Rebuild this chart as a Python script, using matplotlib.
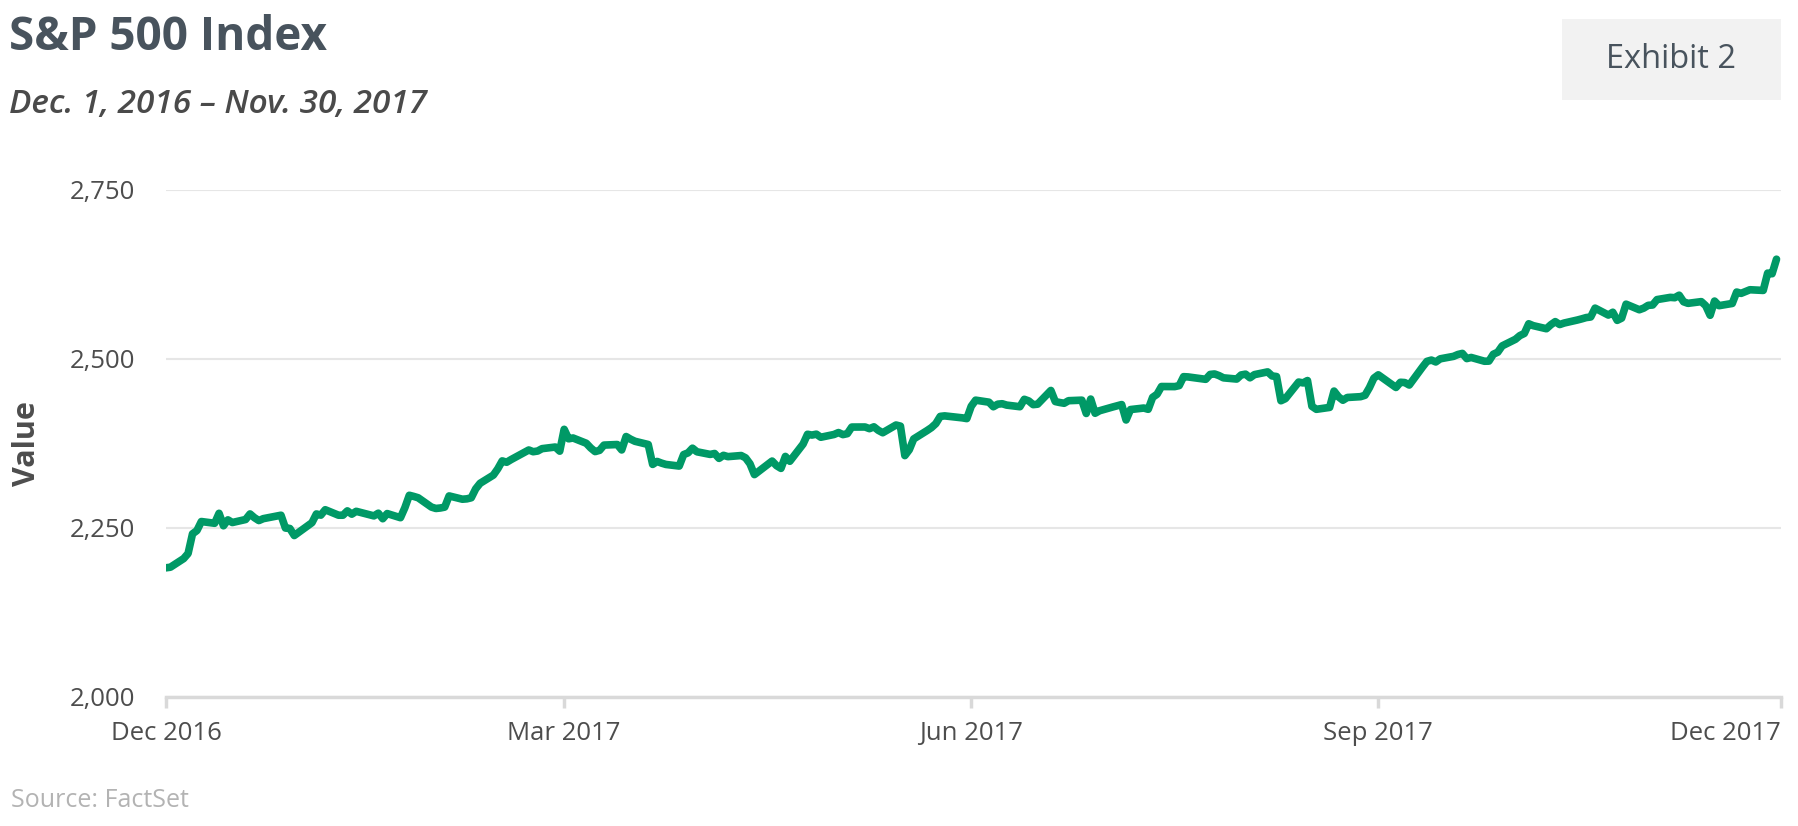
import datetime as dt
import matplotlib
matplotlib.use("Agg")
import matplotlib.pyplot as plt
import matplotlib.dates as mdates
import matplotlib.transforms as mtransforms
from matplotlib.patches import Rectangle
from matplotlib.ticker import FuncFormatter

# S&P 500 daily closes (grouped by month)
months = ["2016-12", "2017-01", "2017-02", "2017-03", "2017-04", "2017-05",
          "2017-06", "2017-07", "2017-08", "2017-09", "2017-10", "2017-11"]

trade_days = [
    [1, 2, 5, 6, 7, 8, 9, 12, 13, 14, 15, 16, 19, 20, 21, 22, 23, 27, 28, 29, 30],
    [3, 4, 5, 6, 9, 10, 11, 12, 13, 17, 18, 19, 20, 23, 24, 25, 26, 27, 30, 31],
    [1, 2, 3, 6, 7, 8, 9, 10, 13, 14, 15, 16, 17, 21, 22, 23, 24, 27, 28],
    [1, 2, 3, 6, 7, 8, 9, 10, 13, 14, 15, 16, 17, 20, 21, 22, 23, 24, 27, 28, 29, 30, 31],
    [3, 4, 5, 6, 7, 10, 11, 12, 13, 17, 18, 19, 20, 21, 24, 25, 26, 27, 28],
    [1, 2, 3, 4, 5, 8, 9, 10, 11, 12, 15, 16, 17, 18, 19, 22, 23, 24, 25, 26, 30, 31],
    [1, 2, 5, 6, 7, 8, 9, 12, 13, 14, 15, 16, 19, 20, 21, 22, 23, 26, 27, 28, 29, 30],
    [3, 5, 6, 7, 10, 11, 12, 13, 14, 17, 18, 19, 20, 21, 24, 25, 26, 27, 28, 31],
    [1, 2, 3, 4, 7, 8, 9, 10, 11, 14, 15, 16, 17, 18, 21, 22, 23, 24, 25, 28, 29, 30, 31],
    [1, 5, 6, 7, 8, 11, 12, 13, 14, 15, 18, 19, 20, 21, 22, 25, 26, 27, 28, 29],
    [2, 3, 4, 5, 6, 9, 10, 11, 12, 13, 16, 17, 18, 19, 20, 23, 24, 25, 26, 27, 30, 31],
    [1, 2, 3, 6, 7, 8, 9, 10, 13, 14, 15, 16, 17, 20, 21, 22, 24, 27, 28, 29, 30],
]

closes = [
    [2191.08, 2191.95, 2204.71, 2212.23, 2241.35, 2246.19, 2259.53, 2256.96, 2271.72,
     2253.28, 2262.03, 2258.07, 2262.53, 2270.76, 2265.18, 2260.96, 2263.79, 2268.88,
     2249.92, 2249.26, 2238.83],
    [2257.83, 2270.75, 2269.00, 2276.98, 2268.90, 2268.90, 2275.32, 2270.44, 2274.64,
     2267.89, 2271.89, 2263.69, 2271.31, 2265.20, 2280.07, 2298.37, 2296.68, 2294.69,
     2280.90, 2278.87],
    [2279.55, 2280.85, 2297.42, 2292.56, 2293.08, 2294.67, 2307.87, 2316.10, 2328.25,
     2337.58, 2349.25, 2347.22, 2351.16, 2365.38, 2362.82, 2363.81, 2367.34, 2369.75,
     2363.64],
    [2395.96, 2381.92, 2383.12, 2375.31, 2368.39, 2362.98, 2364.87, 2372.60, 2373.47,
     2365.45, 2385.26, 2381.38, 2378.25, 2373.47, 2344.02, 2348.45, 2345.96, 2343.98,
     2341.59, 2358.57, 2361.13, 2368.06, 2362.72],
    [2358.84, 2360.16, 2352.95, 2357.49, 2355.54, 2357.16, 2353.78, 2344.93, 2328.95,
     2349.01, 2342.19, 2338.17, 2355.84, 2348.69, 2374.15, 2388.61, 2387.45, 2388.77,
     2384.20],
    [2388.33, 2391.17, 2388.13, 2389.52, 2399.29, 2399.38, 2396.92, 2399.63, 2394.44,
     2390.90, 2402.32, 2400.67, 2357.03, 2365.72, 2381.73, 2394.02, 2398.42, 2404.39,
     2415.07, 2415.82, 2412.91, 2411.80],
    [2430.06, 2439.07, 2436.10, 2429.33, 2433.14, 2433.79, 2431.77, 2429.39, 2440.35,
     2437.92, 2432.46, 2433.15, 2453.46, 2437.03, 2435.61, 2434.50, 2438.30, 2439.07,
     2419.38, 2440.69, 2419.70, 2423.41],
    [2429.01, 2432.54, 2409.75, 2425.18, 2427.43, 2425.53, 2443.25, 2447.83, 2459.27,
     2459.14, 2460.61, 2473.83, 2473.45, 2472.54, 2469.91, 2477.13, 2477.83, 2475.42,
     2472.10, 2470.30],
    [2476.35, 2477.57, 2472.16, 2476.83, 2480.91, 2474.92, 2474.02, 2438.21, 2441.32,
     2465.84, 2464.61, 2468.11, 2430.01, 2425.55, 2428.37, 2452.51, 2444.04, 2438.97,
     2443.05, 2444.24, 2446.30, 2457.59, 2471.65],
    [2476.55, 2457.85, 2465.54, 2465.10, 2461.43, 2488.11, 2496.48, 2498.37, 2495.62,
     2500.23, 2503.87, 2506.65, 2508.24, 2500.60, 2502.22, 2496.66, 2496.84, 2507.04,
     2510.06, 2519.36],
    [2529.12, 2534.58, 2537.74, 2552.07, 2549.33, 2544.73, 2550.64, 2555.24, 2550.93,
     2553.17, 2557.64, 2559.36, 2561.26, 2562.10, 2575.21, 2564.98, 2569.13, 2557.15,
     2560.40, 2581.07, 2572.83, 2575.26],
    [2579.36, 2579.85, 2587.84, 2591.13, 2590.64, 2594.38, 2584.62, 2582.30, 2584.84,
     2578.87, 2564.62, 2585.64, 2578.85, 2582.14, 2599.03, 2597.08, 2602.42, 2601.42,
     2627.04, 2626.07, 2647.58],
]

y_ticks = [2000, 2250, 2500, 2750]
x_tick_dates = ["2016-12-01", "2017-03-01", "2017-06-01", "2017-09-01", "2017-12-01"]
x_tick_labels = ["Dec 2016", "Mar 2017", "Jun 2017", "Sep 2017", "Dec 2017"]

dates = []
values = []
for month, days, vals in zip(months, trade_days, closes):
    year, mon = map(int, month.split("-"))
    for d, v in zip(days, vals):
        dates.append(dt.date(year, mon, d))
        values.append(v)

plt.rcParams['font.family'] = ['Open Sans', 'DejaVu Sans']

fig = plt.figure(figsize=(17.98, 8.26), dpi=100)
ax = fig.add_axes([0.0923, 0.1562, 0.8982, 0.6138])

ax.plot(dates, values, color='#009966', linewidth=5.5, solid_joinstyle='round',
        solid_capstyle='round', zorder=3)

ax.set_ylim(2000, 2750)
ax.set_xlim(dt.date(2016, 12, 1), dt.date(2017, 12, 1))
ax.set_yticks(y_ticks)
ax.yaxis.set_major_formatter(FuncFormatter(lambda v, p: f"{int(v):,}"))
ax.grid(axis='y', color='#e6e6e6', linewidth=1.5)
ax.set_axisbelow(True)

tick_pos = [mdates.date2num(dt.date.fromisoformat(s)) for s in x_tick_dates]
ax.set_xticks(tick_pos)
ax.set_xticklabels(x_tick_labels)
last = ax.xaxis.get_ticklabels()[-1]
last.set_horizontalalignment('right')
last.set_transform(last.get_transform() +
                   mtransforms.ScaledTranslation(-6 / 100, 0, fig.dpi_scale_trans))

for side in ['top', 'right', 'left']:
    ax.spines[side].set_visible(False)
ax.spines['bottom'].set_color('#d9d9d9')
ax.spines['bottom'].set_linewidth(2.5)
ax.tick_params(axis='x', colors='#d9d9d9', length=8, width=2.5, labelsize=18.5,
               labelcolor='#4d4d4d', pad=9)
ax.tick_params(axis='y', length=0, labelsize=18.5, labelcolor='#4d4d4d', pad=22)

ax.set_ylabel("Value", fontsize=22, fontweight='bold', color='#4d4d4d', labelpad=20)

fig.text(0.005, 0.955, "S&P 500 Index", fontsize=33, fontweight='bold',
         color='#48535d', va='center', ha='left')
fig.text(0.005, 0.873, "Dec. 1, 2016 – Nov. 30, 2017", fontsize=24, style='italic',
         fontweight='semibold', color='#4a4a4a', va='center', ha='left')

fig.patches.append(Rectangle((1562 / 1798, 1 - 100 / 826), 219 / 1798, 81 / 826,
                             transform=fig.transFigure, facecolor='#f2f2f2',
                             edgecolor='none'))
fig.text((1562 + 1781) / 2 / 1798, 1 - 60 / 826, "Exhibit 2", fontsize=23.5,
         color='#48535d', va='center', ha='center')

fig.text(0.006, 0.031, "Source: FactSet", fontsize=18, color='#b3b3b3',
         va='center', ha='left')

fig.savefig("out.png", dpi=100)
